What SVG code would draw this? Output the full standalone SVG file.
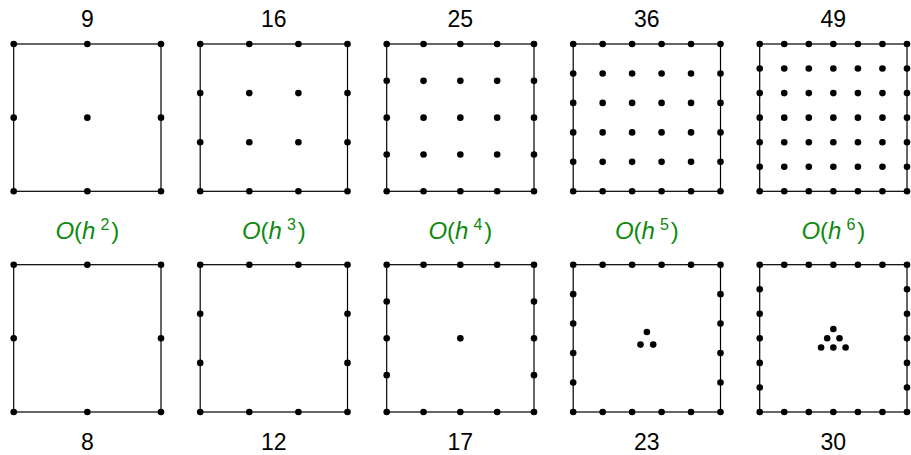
<svg xmlns="http://www.w3.org/2000/svg" width="911" height="455" viewBox="0 0 911 455">
<style>
.sq{fill:none;stroke:#000;stroke-width:1.2}
.d{fill:#000}
.num{font-family:"Liberation Sans",Arial,sans-serif;font-size:23px;fill:#000;text-anchor:middle}
.ord{font-family:"Liberation Sans",Arial,sans-serif;font-size:24px;fill:#0f8a0f;text-anchor:middle}
.it{font-style:italic}
.sup{font-size:16px}
</style>
<defs>
<g id="row3"><circle class="d" cx="0" cy="0" r="3.3"/><circle class="d" cx="73.65" cy="0" r="3.3"/><circle class="d" cx="147.3" cy="0" r="3.3"/></g>
<g id="row4"><circle class="d" cx="0" cy="0" r="3.3"/><circle class="d" cx="49.1" cy="0" r="3.3"/><circle class="d" cx="98.2" cy="0" r="3.3"/><circle class="d" cx="147.3" cy="0" r="3.3"/></g>
<g id="row5"><circle class="d" cx="0" cy="0" r="3.3"/><circle class="d" cx="36.825" cy="0" r="3.3"/><circle class="d" cx="73.65" cy="0" r="3.3"/><circle class="d" cx="110.475" cy="0" r="3.3"/><circle class="d" cx="147.3" cy="0" r="3.3"/></g>
<g id="row6"><circle class="d" cx="0" cy="0" r="3.3"/><circle class="d" cx="29.46" cy="0" r="3.3"/><circle class="d" cx="58.92" cy="0" r="3.3"/><circle class="d" cx="88.38" cy="0" r="3.3"/><circle class="d" cx="117.84" cy="0" r="3.3"/><circle class="d" cx="147.3" cy="0" r="3.3"/></g>
<g id="row7"><circle class="d" cx="0" cy="0" r="3.3"/><circle class="d" cx="24.55" cy="0" r="3.3"/><circle class="d" cx="49.1" cy="0" r="3.3"/><circle class="d" cx="73.65" cy="0" r="3.3"/><circle class="d" cx="98.2" cy="0" r="3.3"/><circle class="d" cx="122.75" cy="0" r="3.3"/><circle class="d" cx="147.3" cy="0" r="3.3"/></g>
<g id="ends"><circle class="d" cx="0" cy="0" r="3.3"/><circle class="d" cx="147.3" cy="0" r="3.3"/></g>
</defs>
<rect width="911" height="455" fill="#fff"/>

<g id="top1">
<text class="num" x="87.35" y="27">9</text>
<rect class="sq" x="13.7" y="44" width="147.3" height="147.3"/>
<use href="#row3" x="13.7" y="44"/>
<use href="#row3" x="13.7" y="117.65"/>
<use href="#row3" x="13.7" y="191.3"/>
</g>
<g id="top2">
<text class="num" x="273.85" y="27">16</text>
<rect class="sq" x="200.2" y="44" width="147.3" height="147.3"/>
<use href="#row4" x="200.2" y="44"/>
<use href="#row4" x="200.2" y="93.1"/>
<use href="#row4" x="200.2" y="142.2"/>
<use href="#row4" x="200.2" y="191.3"/>
</g>
<g id="top3">
<text class="num" x="460.35" y="27">25</text>
<rect class="sq" x="386.7" y="44" width="147.3" height="147.3"/>
<use href="#row5" x="386.7" y="44"/>
<use href="#row5" x="386.7" y="80.825"/>
<use href="#row5" x="386.7" y="117.65"/>
<use href="#row5" x="386.7" y="154.475"/>
<use href="#row5" x="386.7" y="191.3"/>
</g>
<g id="top4">
<text class="num" x="646.85" y="27">36</text>
<rect class="sq" x="573.2" y="44" width="147.3" height="147.3"/>
<use href="#row6" x="573.2" y="44"/>
<use href="#row6" x="573.2" y="73.46"/>
<use href="#row6" x="573.2" y="102.92"/>
<use href="#row6" x="573.2" y="132.38"/>
<use href="#row6" x="573.2" y="161.84"/>
<use href="#row6" x="573.2" y="191.3"/>
</g>
<g id="top5">
<text class="num" x="833.35" y="27">49</text>
<rect class="sq" x="759.7" y="44" width="147.3" height="147.3"/>
<use href="#row7" x="759.7" y="44"/>
<use href="#row7" x="759.7" y="68.55"/>
<use href="#row7" x="759.7" y="93.1"/>
<use href="#row7" x="759.7" y="117.65"/>
<use href="#row7" x="759.7" y="142.2"/>
<use href="#row7" x="759.7" y="166.75"/>
<use href="#row7" x="759.7" y="191.3"/>
</g>

<g id="orders">
<text class="ord" x="87.35" y="239"><tspan class="it">O</tspan>(<tspan class="it">h</tspan><tspan class="sup" dx="5" dy="-9">2</tspan><tspan dx="2" dy="9">)</tspan></text>
<text class="ord" x="273.85" y="239"><tspan class="it">O</tspan>(<tspan class="it">h</tspan><tspan class="sup" dx="5" dy="-9">3</tspan><tspan dx="2" dy="9">)</tspan></text>
<text class="ord" x="460.35" y="239"><tspan class="it">O</tspan>(<tspan class="it">h</tspan><tspan class="sup" dx="5" dy="-9">4</tspan><tspan dx="2" dy="9">)</tspan></text>
<text class="ord" x="646.85" y="239"><tspan class="it">O</tspan>(<tspan class="it">h</tspan><tspan class="sup" dx="5" dy="-9">5</tspan><tspan dx="2" dy="9">)</tspan></text>
<text class="ord" x="833.35" y="239"><tspan class="it">O</tspan>(<tspan class="it">h</tspan><tspan class="sup" dx="5" dy="-9">6</tspan><tspan dx="2" dy="9">)</tspan></text>
</g>

<g id="bot1">
<rect class="sq" x="13.7" y="264.7" width="147.3" height="147.3"/>
<use href="#row3" x="13.7" y="264.7"/>
<use href="#ends" x="13.7" y="338.35"/>
<use href="#row3" x="13.7" y="412"/>
<text class="num" x="87.35" y="450">8</text>
</g>
<g id="bot2">
<rect class="sq" x="200.2" y="264.7" width="147.3" height="147.3"/>
<use href="#row4" x="200.2" y="264.7"/>
<use href="#ends" x="200.2" y="313.8"/>
<use href="#ends" x="200.2" y="362.9"/>
<use href="#row4" x="200.2" y="412"/>
<text class="num" x="273.85" y="450">12</text>
</g>
<g id="bot3">
<rect class="sq" x="386.7" y="264.7" width="147.3" height="147.3"/>
<use href="#row5" x="386.7" y="264.7"/>
<use href="#ends" x="386.7" y="301.525"/>
<use href="#ends" x="386.7" y="338.35"/>
<use href="#ends" x="386.7" y="375.175"/>
<use href="#row5" x="386.7" y="412"/>
<circle class="d" cx="460.35" cy="338.35" r="3.3"/>
<text class="num" x="460.35" y="450">17</text>
</g>
<g id="bot4">
<rect class="sq" x="573.2" y="264.7" width="147.3" height="147.3"/>
<use href="#row6" x="573.2" y="264.7"/>
<use href="#ends" x="573.2" y="294.16"/>
<use href="#ends" x="573.2" y="323.62"/>
<use href="#ends" x="573.2" y="353.08"/>
<use href="#ends" x="573.2" y="382.54"/>
<use href="#row6" x="573.2" y="412"/>
<circle class="d" cx="646.85" cy="332" r="3.3"/>
<circle class="d" cx="640.5" cy="344.6" r="3.3"/>
<circle class="d" cx="653.2" cy="344.6" r="3.3"/>
<text class="num" x="646.85" y="450">23</text>
</g>
<g id="bot5">
<rect class="sq" x="759.7" y="264.7" width="147.3" height="147.3"/>
<use href="#row7" x="759.7" y="264.7"/>
<use href="#ends" x="759.7" y="289.25"/>
<use href="#ends" x="759.7" y="313.8"/>
<use href="#ends" x="759.7" y="338.35"/>
<use href="#ends" x="759.7" y="362.9"/>
<use href="#ends" x="759.7" y="387.45"/>
<use href="#row7" x="759.7" y="412"/>
<circle class="d" cx="833.35" cy="329" r="3.3"/>
<circle class="d" cx="827.2" cy="338.3" r="3.3"/>
<circle class="d" cx="839.5" cy="338.3" r="3.3"/>
<circle class="d" cx="821.1" cy="347.5" r="3.3"/>
<circle class="d" cx="833.35" cy="347.5" r="3.3"/>
<circle class="d" cx="845.6" cy="347.5" r="3.3"/>
<text class="num" x="833.35" y="450">30</text>
</g>
<g id="connectors"/>
</svg>
